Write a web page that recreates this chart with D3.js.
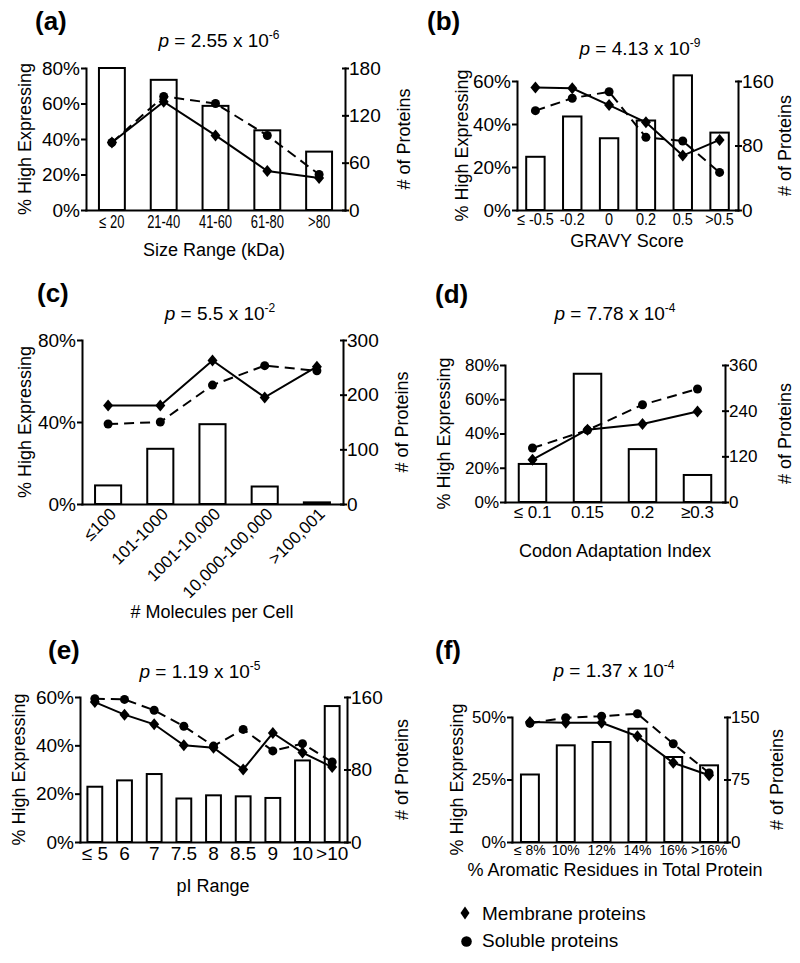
<!DOCTYPE html>
<html>
<head>
<meta charset="utf-8">
<script src="https://cdn.jsdelivr.net/npm/d3@7"></script>
<style>
  html, body { margin: 0; padding: 0; background: #fff; }
  svg { display: block; }
</style>
</head>
<body>
<svg id="chart" width="800" height="963"></svg>
<script>
// ---------------- DATA ----------------
const catsA = ["≤ 20", "21-40", "41-60", "61-80", ">80"];
const countsA = [180, 165, 132, 101, 74];
const membA = [38, 61, 42, 22, 18];
const solA = [38, 64, 60, 42, 20];
const yTicksA = [0, 20, 40, 60, 80];
const rTicksA = [0, 60, 120, 180];

const catsB = ["≤ -0.5", "-0.2", "0", "0.2", "0.5", ">0.5"];
const countsB = [66, 116, 89, 111, 167, 96];
const membB = [57, 56.6, 48.8, 40.8, 25.3, 32.6];
const solB = [46.2, 52, 55, 33.8, 32.1, 17.5];
const yTicksB = [0, 20, 40, 60];
const rTicksB = [0, 80, 160];

const catsC = ["≤100", "101-1000", "1001-10,000", "10,000-100,000", ">100,001"];
const countsC = [34, 101, 146, 32, 3];
const membC = [48, 48, 70, 52, 67];
const solC = [39, 40, 58, 67.5, 65];
const yTicksC = [0, 40, 80];
const rTicksC = [0, 100, 200, 300];

const catsD = ["≤ 0.1", "0.15", "0.2", "≥0.3"];
const countsD = [100, 337, 139, 71];
const membD = [24.7, 42.2, 45.5, 52.9];
const solD = [31.5, 42, 56.8, 66];
const yTicksD = [0, 20, 40, 60, 80];
const rTicksD = [0, 120, 240, 360];

const catsE = ["≤ 5", "6", "7", "7.5", "8", "8.5", "9", "10", ">10"];
const countsE = [61, 68, 75, 48, 51.5, 50.4, 48.6, 90, 150];
const membE = [57.9, 52.7, 48.7, 40, 39, 30, 45.1, 37, 31];
const solE = [59.3, 59, 54.5, 47.9, 39.7, 46.6, 37.7, 40.7, 33.1];
const yTicksE = [0, 20, 40, 60];
const rTicksE = [0, 80, 160];

const catsF = ["≤ 8%", "10%", "12%", "14%", "16%", ">16%"];
const countsF = [81, 116, 120, 136, 102, 92];
const membF = [48, 47.7, 47.7, 42.3, 31.7, 26.7];
const solF = [47.5, 49.7, 50.3, 51.3, 39.3, 27.6];
const yTicksF = [0, 25, 50];
const rTicksF = [0, 75, 150];

const legendLabels = ["Membrane proteins", "Soluble proteins"];

// ---------------- DRAWING ----------------
const FONT = "'Liberation Sans', Arial, Helvetica, sans-serif";
const svg = d3.select("#chart");
const diamondPath = "M0,-6L5,0L0,6L-5,0Z";

function panel(c) {
  const g = svg.append("g");
  const x = d3.scaleBand().domain(c.cats).range([c.left, c.right])
    .paddingInner(0.5).paddingOuter(0.25);
  const yL = d3.scaleLinear().domain([0, c.yMax]).range([c.bottom, c.top]);
  const yR = d3.scaleLinear().domain([0, c.rMax]).range([c.bottom, c.top]);
  const bw = x.bandwidth();
  const cx = (i) => x(c.cats[i]) + bw / 2;

  // panel letter
  g.append("text").attr("x", c.lx).attr("y", c.ly)
    .attr("font-family", FONT).attr("font-weight", "bold").attr("font-size", 26)
    .text(c.letter);

  // p value
  const pt = g.append("text").attr("x", c.px).attr("y", c.py)
    .attr("text-anchor", "middle").attr("font-family", FONT).attr("font-size", 19);
  pt.append("tspan").attr("font-style", "italic").text("p");
  pt.append("tspan").text(" = " + c.pVal + " x 10");
  pt.append("tspan").attr("font-size", 12).attr("dy", -8).text(c.pExp);

  // bars
  g.append("g").selectAll("rect").data(c.counts).join("rect")
    .attr("x", (d, i) => x(c.cats[i]))
    .attr("y", d => yR(d))
    .attr("width", bw)
    .attr("height", d => c.bottom - yR(d))
    .attr("fill", "#fff").attr("stroke", "#000").attr("stroke-width", 2);

  // x axis
  const xa = g.append("g").attr("transform", `translate(0,${c.bottom})`)
    .call(d3.axisBottom(x).tickSize(0).tickSizeOuter(0));
  xa.select(".domain").attr("stroke-width", 2).attr("stroke-linecap", "square");
  const xt = xa.selectAll(".tick text")
    .attr("font-family", FONT).attr("font-size", c.xFont)
    .attr("fill", "#000").attr("dy", null);
  if (c.rotate) {
    xt.attr("x", 0).attr("y", 0).attr("text-anchor", "end")
      .attr("transform", "translate(9,11) rotate(-45)");
  } else {
    xt.attr("y", c.xTickDy);
    if (c.xSquash) xt.attr("transform", `scale(${c.xSquash},1)`);
  }

  // left axis
  const la = g.append("g").attr("transform", `translate(${c.left},0)`)
    .call(d3.axisLeft(yL).tickValues(c.yTicks).tickFormat(d => d + "%")
      .tickSize(5).tickSizeOuter(0).tickPadding(1));
  la.select(".domain").attr("stroke-width", 2).attr("stroke-linecap", "square");
  la.selectAll(".tick line").attr("stroke-width", 2);
  la.selectAll(".tick text").attr("font-family", FONT).attr("font-size", c.yFont).attr("fill", "#000");

  // right axis
  const ra = g.append("g").attr("transform", `translate(${c.right},0)`)
    .call(d3.axisRight(yR).tickValues(c.rTicks).tickSize(4).tickSizeOuter(0).tickPadding(0));
  ra.select(".domain").attr("stroke-width", 2).attr("stroke-linecap", "square");
  ra.selectAll(".tick line").attr("x1", -3).attr("stroke-width", 2);
  ra.selectAll(".tick text").attr("font-family", FONT).attr("font-size", c.rFont || c.yFont).attr("fill", "#000");

  // lines
  const line = d3.line().x((d, i) => cx(i)).y(d => yL(d));
  g.append("path").datum(c.sol).attr("d", line)
    .attr("fill", "none").attr("stroke", "#000").attr("stroke-width", 2)
    .attr("stroke-dasharray", "10,6");
  g.append("path").datum(c.memb).attr("d", line)
    .attr("fill", "none").attr("stroke", "#000").attr("stroke-width", 2);

  // markers
  g.append("g").selectAll("circle").data(c.sol).join("circle")
    .attr("cx", (d, i) => cx(i)).attr("cy", d => yL(d)).attr("r", 4.5).attr("fill", "#000");
  g.append("g").selectAll("path").data(c.memb).join("path")
    .attr("d", diamondPath)
    .attr("transform", (d, i) => `translate(${cx(i)},${yL(d)})`).attr("fill", "#000");

  // axis titles
  g.append("text").attr("x", c.xlx).attr("y", c.xly).attr("text-anchor", "middle")
    .attr("font-family", FONT).attr("font-size", 18).text(c.xLabel);
  const yc = (c.top + c.bottom) / 2;
  g.append("text").attr("transform", `translate(${c.ylx},${yc}) rotate(-90)`)
    .attr("text-anchor", "middle").attr("font-family", FONT).attr("font-size", 18)
    .text("% High Expressing");
  g.append("text").attr("transform", `translate(${c.rlx},${yc}) rotate(-90)`)
    .attr("text-anchor", "middle").attr("font-family", FONT).attr("font-size", 18)
    .text("# of Proteins");
}

panel({ letter: "(a)", lx: 35, ly: 30, pVal: "2.55", pExp: "-6", px: 219, py: 47,
  left: 86, right: 345, top: 68, bottom: 210,
  cats: catsA, counts: countsA, memb: membA, sol: solA,
  yMax: 80, yTicks: yTicksA, rMax: 180, rTicks: rTicksA,
  xFont: 18, xSquash: 0.72, xTickDy: 18, yFont: 19,
  xLabel: "Size Range (kDa)", xlx: 214, xly: 256, ylx: 31, rlx: 410 });

panel({ letter: "(b)", lx: 427, ly: 30, pVal: "4.13", pExp: "-9", px: 640, py: 55,
  left: 517, right: 738, top: 81, bottom: 210,
  cats: catsB, counts: countsB, memb: membB, sol: solB,
  yMax: 60, yTicks: yTicksB, rMax: 160, rTicks: rTicksB,
  xFont: 17, xSquash: 0.85, xTickDy: 15, yFont: 19,
  xLabel: "GRAVY Score", xlx: 627, xly: 247, ylx: 468, rlx: 791 });

panel({ letter: "(c)", lx: 37, ly: 302, pVal: "5.5", pExp: "-2", px: 220, py: 320,
  left: 82, right: 343, top: 340, bottom: 504,
  cats: catsC, counts: countsC, memb: membC, sol: solC,
  yMax: 80, yTicks: yTicksC, rMax: 300, rTicks: rTicksC,
  xFont: 17, rotate: true, yFont: 19,
  xLabel: "# Molecules per Cell", xlx: 212, xly: 618, ylx: 31, rlx: 408 });

panel({ letter: "(d)", lx: 435, ly: 303, pVal: "7.78", pExp: "-4", px: 615, py: 320,
  left: 505, right: 725, top: 365, bottom: 502,
  cats: catsD, counts: countsD, memb: membD, sol: solD,
  yMax: 80, yTicks: yTicksD, rMax: 360, rTicks: rTicksD,
  xFont: 17, xTickDy: 16, yFont: 17,
  xLabel: "Codon Adaptation Index", xlx: 615, xly: 557, ylx: 450, rlx: 791 });

panel({ letter: "(e)", lx: 48, ly: 659, pVal: "1.19", pExp: "-5", px: 200, py: 678,
  left: 80, right: 347, top: 697, bottom: 842,
  cats: catsE, counts: countsE, memb: membE, sol: solE,
  yMax: 60, yTicks: yTicksE, rMax: 160, rTicks: rTicksE,
  xFont: 19, xTickDy: 18, yFont: 19,
  xLabel: "pI Range", xlx: 213, xly: 892, ylx: 25, rlx: 408 });

panel({ letter: "(f)", lx: 435, ly: 659, pVal: "1.37", pExp: "-4", px: 614, py: 677,
  left: 512, right: 727, top: 717, bottom: 842,
  cats: catsF, counts: countsF, memb: membF, sol: solF,
  yMax: 50, yTicks: yTicksF, rMax: 150, rTicks: rTicksF,
  xFont: 14, xTickDy: 13, yFont: 17,
  xLabel: "% Aromatic Residues in Total Protein", xlx: 615, xly: 876, ylx: 463, rlx: 783 });

// legend
const lg = svg.append("g");
lg.append("path").attr("d", "M0,-6.5L4.5,0L0,6.5L-4.5,0Z")
  .attr("transform", "translate(465,913)").attr("fill", "#000");
lg.append("circle").attr("cx", 466.5).attr("cy", 941.5).attr("r", 5.3).attr("fill", "#000");
lg.selectAll("text").data(legendLabels).join("text")
  .attr("x", 482).attr("y", (d, i) => 920 + i * 27)
  .attr("font-family", FONT).attr("font-size", 19).text(d => d);
</script>
</body>
</html>
